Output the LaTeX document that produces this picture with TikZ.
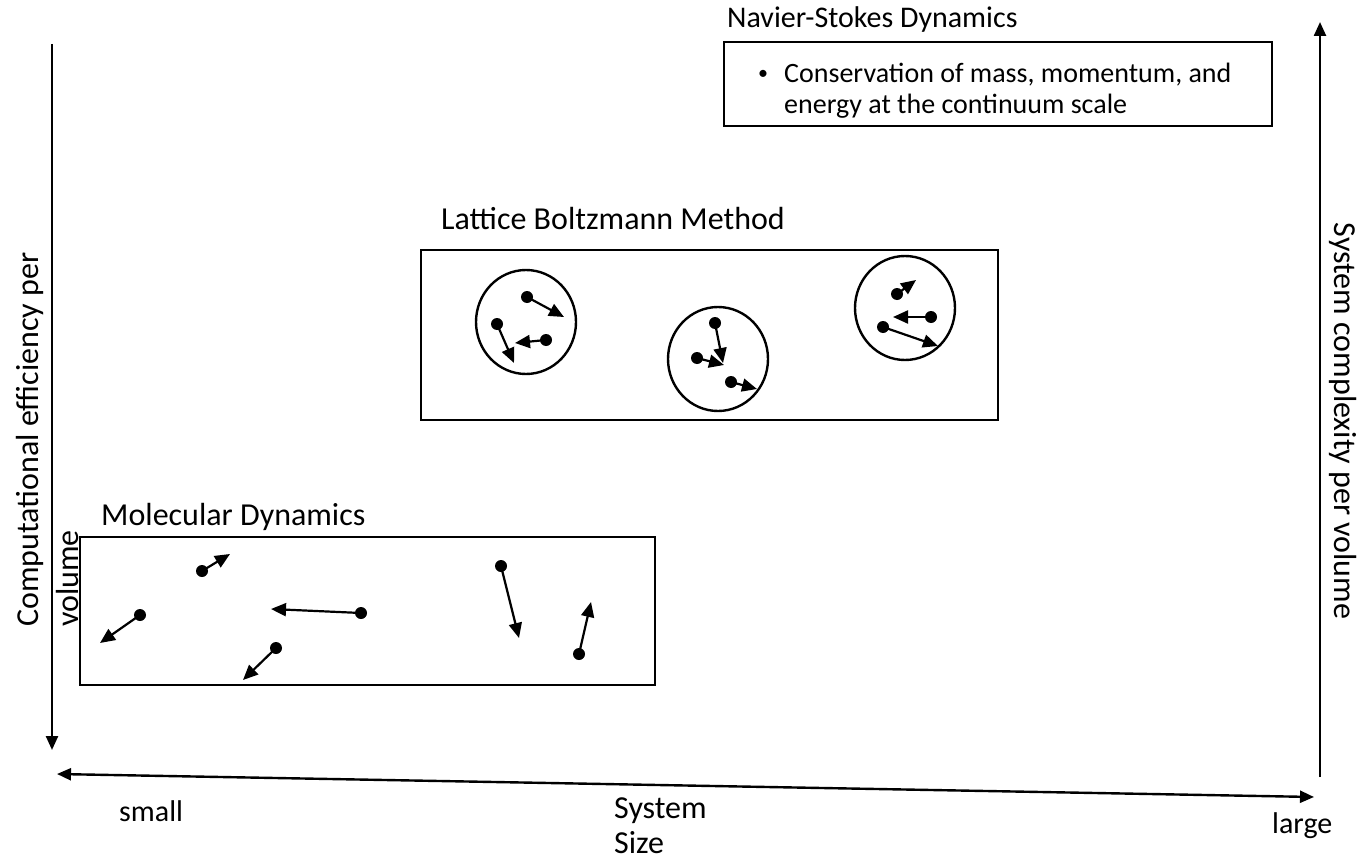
\documentclass[tikz,border=0pt]{standalone}
\usepackage{fontspec}
\setmainfont{Carlito}
\usetikzlibrary{arrows.meta,shapes.geometric}

\begin{document}
\begin{tikzpicture}[x=1pt, y=-1pt,
  font=\fontsize{30}{36}\selectfont,
  big/.style={font=\fontsize{32}{40}\selectfont},
  axis/.style={line width=2.4pt, -{Triangle[length=14pt, width=12pt]}},
  frame/.style={draw, line width=1.8pt, inner sep=0pt},
  cell/.style={draw, ellipse, line width=2.4pt, inner sep=0pt, minimum width=100pt, minimum height=104pt},
  ttl/.style={anchor=base west, inner sep=0pt},
  move/.style={line width=2.2pt, -{Triangle[length=15pt, width=13pt]}}
]
\useasboundingbox (0,0) rectangle (1360,859);
% ---------- axes ----------
\coordinate (efftop) at (52,44);
\coordinate (effbot) at (52,750);
\coordinate (cpxbot) at (1320,777);
\coordinate (cpxtop) at (1320,22);
\coordinate (sizel) at (57,774);
\coordinate (sizer) at (1314,797);
\draw[axis] (efftop) -- (effbot);
\draw[axis] (cpxbot) -- (cpxtop);
\draw[axis, {Triangle[length=14pt, width=12pt]}-{Triangle[length=14pt, width=12pt]}] (sizel) -- (sizer);
\node[ttl, big, rotate=90, align=left] (efflbl) at (78,627) {Computational efficiency per\\volume};
\node[big, rotate=-90, inner sep=0pt] (cpxlbl) at (1343,421) {System complexity per volume};
\node[ttl] (small) at (119,821) {small};
\node[ttl, align=left, font=\fontsize{32}{35}\selectfont] (sizelbl) at (614,853) {System\\Size};
\node[ttl] (large) at (1272,833) {large};
% ================= Navier-Stokes =================
\node[ttl] (nstitle) at (727,28) {Navier-Stokes Dynamics};
\node[frame, minimum width=548pt, minimum height=84pt] (ns) at (998,84) {};
\node[inner sep=0pt, font=\fontsize{20}{20}\selectfont] (nsdot) at (763,75) {\textbullet};
\node[ttl, align=left, font=\fontsize{28}{31}\selectfont] (nstext) at (784,113) {Conservation of mass, momentum, and\\energy at the continuum scale};
% ================= Lattice Boltzmann =================
\node[ttl, big] (lbmtitle) at (441,229) {Lattice Boltzmann Method};
\node[frame, minimum width=577pt, minimum height=170pt] (lbm) at (709.5,335) {};
\node[cell] (c1) at (526,322) {};
\node[cell] (c2) at (718,359) {};
\node[cell] (c3) at (905,308) {};
% ================= Molecular Dynamics =================
\node[ttl, big] (mdtitle) at (101,525) {Molecular Dynamics};
\node[frame, minimum width=575pt, minimum height=148pt] (md) at (367.5,611) {};
% particles: dot at (x,y), velocity tip at (u,v)
\foreach \x/\y/\u/\v in {
  527/297/564/317, 497/324/514/363, 546/340/515/343,
  715/323/723/363, 697/358/724/365, 731/382/757/389,
  897/294/916/280, 931/317/893/317, 883/327/938/346,
  140/615/100/643, 202/571/230/554, 361/613/271/609,
  276/648/243/680, 501/566/519/638, 579/654/591/602}{
  \fill (\x,\y) circle (6pt);
  \draw[move] (\x,\y) -- (\u,\v);}
\end{tikzpicture}
\end{document}
